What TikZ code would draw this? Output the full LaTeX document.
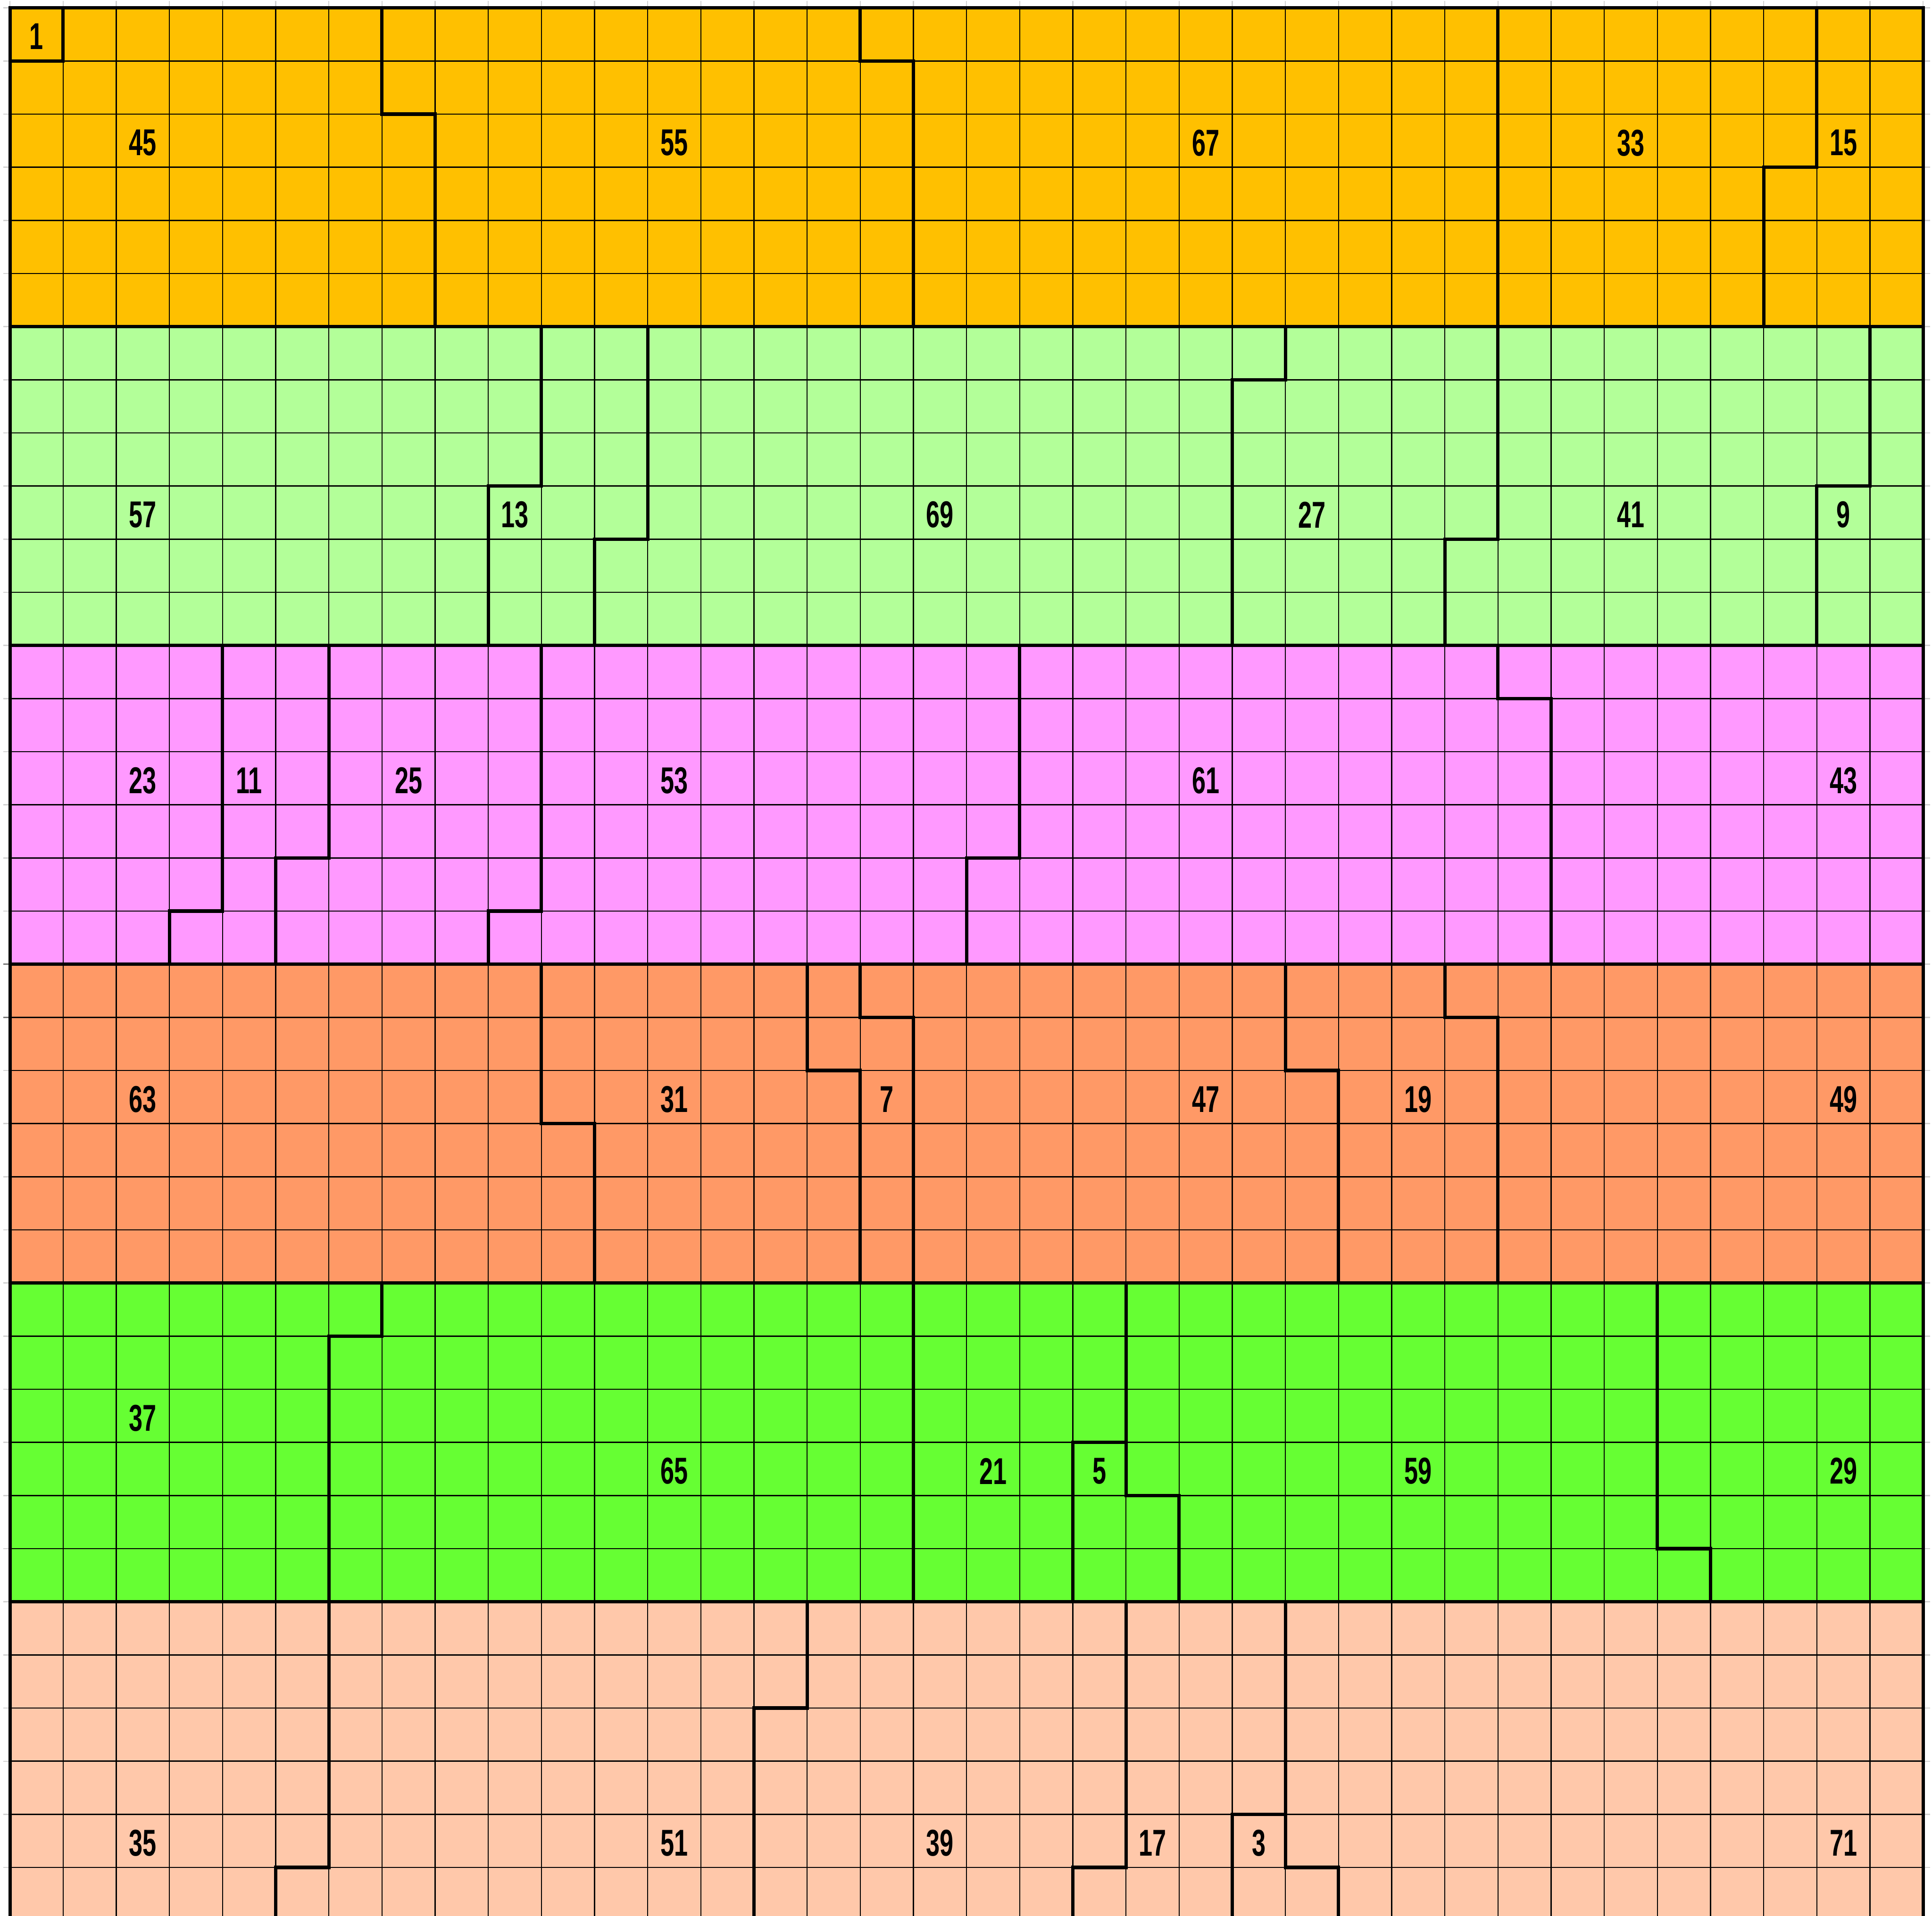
\documentclass[tikz,border=0pt]{standalone}
\usepackage{fontspec}
\newfontfamily\lblfont[FakeStretch=0.66]{Liberation Sans Bold}
\definecolor{bandA}{HTML}{FFC000}
\definecolor{bandB}{HTML}{B3FF99}
\definecolor{bandC}{HTML}{FF99FF}
\definecolor{bandD}{HTML}{FF9966}
\definecolor{bandE}{HTML}{66FF33}
\definecolor{bandF}{HTML}{FFC8AA}
\definecolor{tickgray}{HTML}{D2D2D2}
\definecolor{tickdark}{HTML}{7A7A7A}
\tikzset{
  gridline/.style={line width=0.62pt, black},
  seam/.style={line width=1.8pt, black, line cap=rect, line join=miter},
  edgetick/.style={line width=0.6pt, tickgray},
  lbl/.style={inner sep=0pt, font=\lblfont\fontsize{20}{24}\selectfont}
}
\begin{document}
\begin{tikzpicture}[x=1cm,y=-1cm]
\useasboundingbox (-0.188,-0.148) rectangle (36.167,35.911);
\clip (-0.188,-0.148) rectangle (36.167,35.911);
% bands
\fill[bandA] (0,0) rectangle (36,6);
\fill[bandB] (0,6) rectangle (36,12);
\fill[bandC] (0,12) rectangle (36,18);
\fill[bandD] (0,18) rectangle (36,24);
\fill[bandE] (0,24) rectangle (36,30);
\fill[bandF] (0,30) rectangle (36,36);
% faint sheet ticks outside the grid
\foreach \k in {0,...,36} {
  \draw[edgetick] (-0.13,\k) -- (0,\k);
  \draw[edgetick] (\k,-0.13) -- (\k,0);
  \draw[edgetick] (36,\k) -- (36.13,\k);
}
\draw[edgetick, tickdark] (-0.13,18) -- (0,18);
\draw[edgetick, tickdark] (-0.13,19) -- (0,19);
% thin grid
\foreach \k in {1,...,35} {
  \draw[gridline] (\k,0) -- (\k,36);
  \draw[gridline] (0,\k) -- (36,\k);
}
% outer border and band borders
\draw[seam] (0,0) rectangle (36,36);
\foreach \r in {6,12,18,24,30} \draw[seam] (0,\r) -- (36,\r);
% band 1
\draw[seam] (0,1) -- (1,1) -- (1,0);
\draw[seam] (7,0) -- (7,2) -- (8,2) -- (8,6);
\draw[seam] (16,0) -- (16,1) -- (17,1) -- (17,6);
\draw[seam] (28,0) -- (28,6);
\draw[seam] (34,0) -- (34,3) -- (33,3) -- (33,6);
% band 2
\draw[seam] (10,6) -- (10,9) -- (9,9) -- (9,12);
\draw[seam] (12,6) -- (12,10) -- (11,10) -- (11,12);
\draw[seam] (24,6) -- (24,7) -- (23,7) -- (23,12);
\draw[seam] (28,6) -- (28,10) -- (27,10) -- (27,12);
\draw[seam] (35,6) -- (35,9) -- (34,9) -- (34,12);
% band 3
\draw[seam] (4,12) -- (4,17) -- (3,17) -- (3,18);
\draw[seam] (6,12) -- (6,16) -- (5,16) -- (5,18);
\draw[seam] (10,12) -- (10,17) -- (9,17) -- (9,18);
\draw[seam] (19,12) -- (19,16) -- (18,16) -- (18,18);
\draw[seam] (28,12) -- (28,13) -- (29,13) -- (29,18);
% band 4
\draw[seam] (10,18) -- (10,21) -- (11,21) -- (11,24);
\draw[seam] (15,18) -- (15,20) -- (16,20) -- (16,24);
\draw[seam] (16,18) -- (16,19) -- (17,19) -- (17,24);
\draw[seam] (24,18) -- (24,20) -- (25,20) -- (25,24);
\draw[seam] (27,18) -- (27,19) -- (28,19) -- (28,24);
% band 5
\draw[seam] (7,24) -- (7,25) -- (6,25) -- (6,30);
\draw[seam] (17,24) -- (17,30);
\draw[seam] (21,24) -- (21,28) -- (22,28) -- (22,30);
\draw[seam] (20,30) -- (20,27) -- (21,27);
\draw[seam] (31,24) -- (31,29) -- (32,29) -- (32,30);
% band 6
\draw[seam] (6,30) -- (6,35) -- (5,35) -- (5,36);
\draw[seam] (15,30) -- (15,32) -- (14,32) -- (14,36);
\draw[seam] (21,30) -- (21,35) -- (20,35) -- (20,36);
\draw[seam] (24,30) -- (24,35) -- (25,35) -- (25,36);
\draw[seam] (23,36) -- (23,34) -- (24,34);
% labels
\foreach \c/\r/\t in {0/0/1, 2/2/45, 12/2/55, 22/2/67, 30/2/33, 34/2/15,
  2/9/57, 9/9/13, 17/9/69, 24/9/27, 30/9/41, 34/9/9,
  2/14/23, 4/14/11, 7/14/25, 12/14/53, 22/14/61, 34/14/43,
  2/20/63, 12/20/31, 16/20/7, 22/20/47, 26/20/19, 34/20/49,
  2/26/37, 12/27/65, 18/27/21, 20/27/5, 26/27/59, 34/27/29,
  2/34/35, 12/34/51, 17/34/39, 21/34/17, 23/34/3, 34/34/71}
  \node[lbl] (n\t) at (\c+0.5,\r+0.54) {\t};
\end{tikzpicture}
\end{document}
